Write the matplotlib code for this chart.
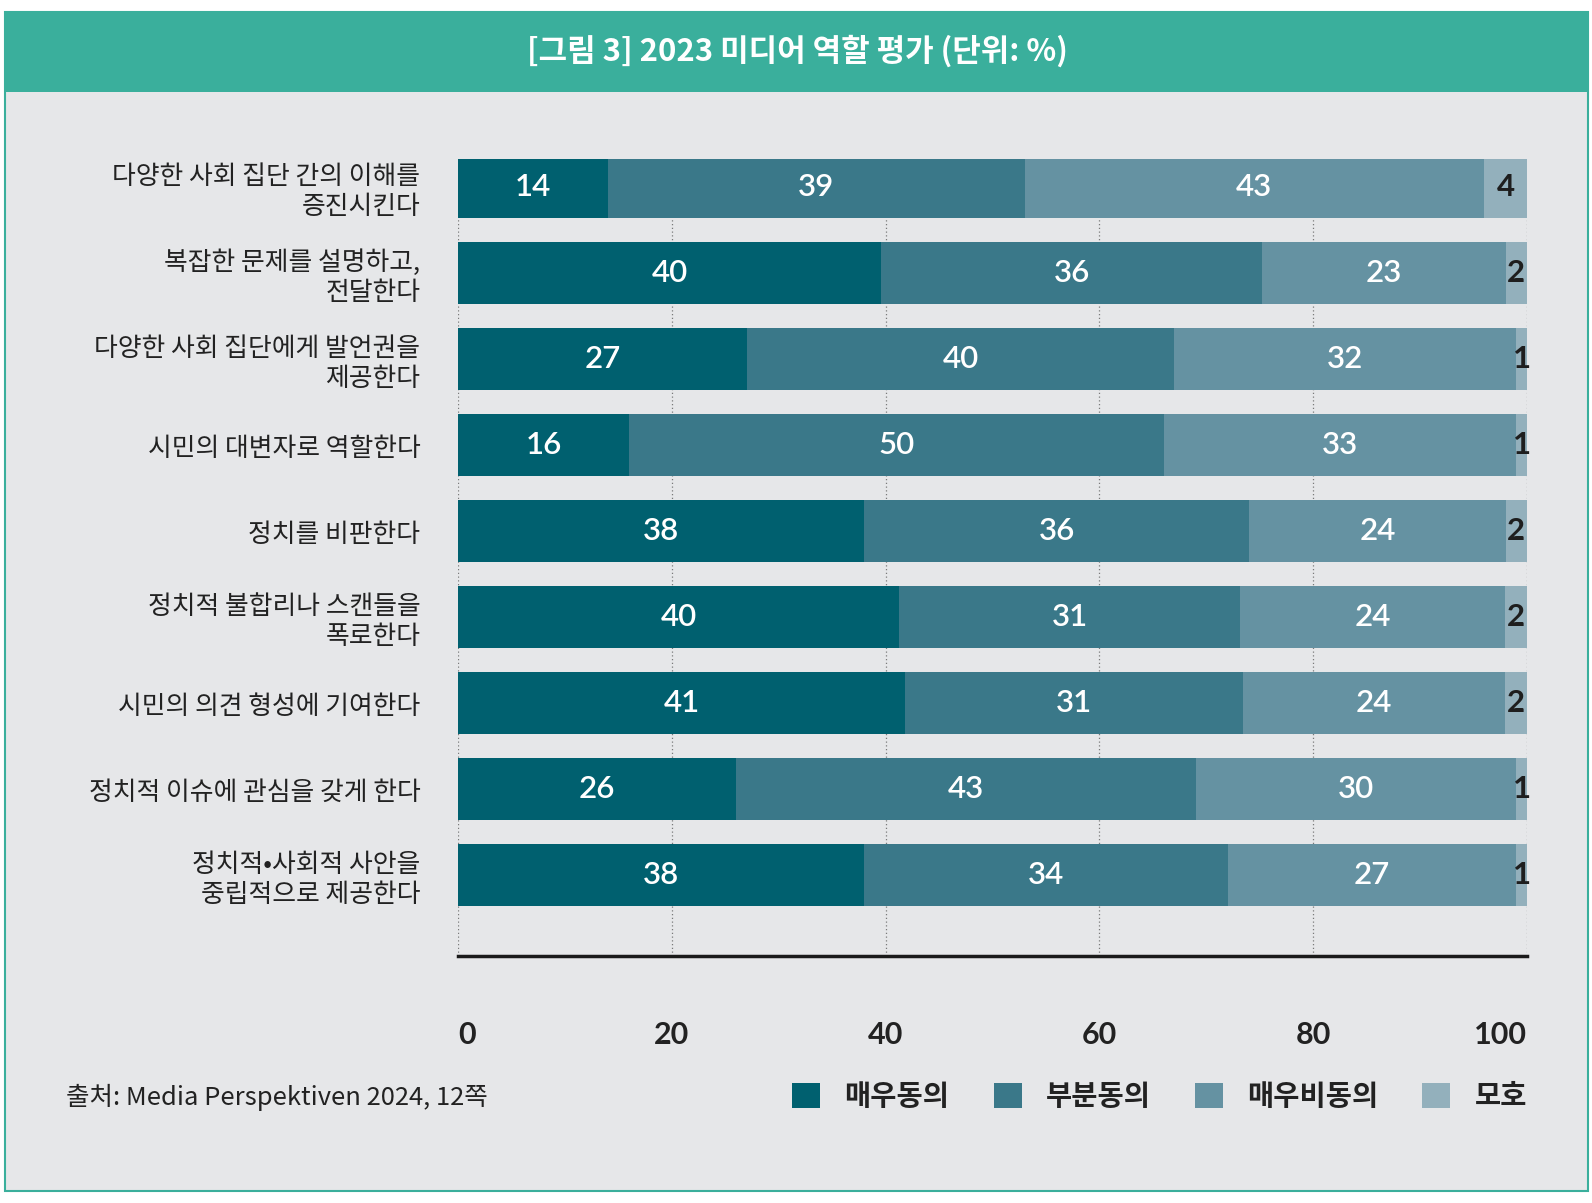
import matplotlib
matplotlib.use("Agg")
import matplotlib.pyplot as plt
from matplotlib.patches import Rectangle, Patch
import numpy as np

plt.rcParams['font.family'] = ['Noto Sans CJK KR', 'DejaVu Sans']

categories = [
    "다양한 사회 집단 간의 이해를\n증진시킨다",
    "복잡한 문제를 설명하고,\n전달한다",
    "다양한 사회 집단에게 발언권을\n제공한다",
    "시민의 대변자로 역할한다",
    "정치를 비판한다",
    "정치적 불합리나 스캔들을\n폭로한다",
    "시민의 의견 형성에 기여한다",
    "정치적 이슈에 관심을 갖게 한다",
    "정치적•사회적 사안을\n중립적으로 제공한다",
]
series_names = ["매우동의", "부분동의", "매우비동의", "모호"]
strongly_agree = [14, 40, 27, 16, 38, 40, 41, 26, 38]
partly_agree = [39, 36, 40, 50, 36, 31, 31, 43, 34]
strongly_disagree = [43, 23, 32, 33, 24, 24, 24, 30, 27]
ambiguous = [4, 2, 1, 1, 2, 2, 2, 1, 1]
x_ticks = [0, 20, 40, 60, 80, 100]
x_tick_labels = ["0", "20", "40", "60", "80", "100"]

title = "[그림 3] 2023 미디어 역할 평가 (단위: %)"
source = "출처: Media Perspektiven 2024, 12쪽"

colors = ["#00606f", "#3a7889", "#6592a2", "#93b0bc"]
label_colors = ["white", "white", "white", "#1e1e1e"]
num_family = ['Lato', 'Noto Sans', 'DejaVu Sans']

W, H = 1592, 1203
fig = plt.figure(figsize=(W / 100, H / 100), dpi=100)
fig.patch.set_facecolor("white")

def fx(px):
    return px / W

def fy(py):
    return 1 - py / H

# panel background and header
fig.add_artist(Rectangle((fx(5), fy(1191)), fx(1588) - fx(5), fy(12) - fy(1191),
                         transform=fig.transFigure, facecolor="#e6e7e9",
                         edgecolor="#3aaf9c", lw=1.5, zorder=0))
fig.add_artist(Rectangle((fx(5), fy(92)), fx(1588) - fx(5), fy(12) - fy(92),
                         transform=fig.transFigure, facecolor="#3aaf9c",
                         edgecolor="none", zorder=1))
fig.text(fx(797), fy(51), title, color="white", fontsize=22.3, fontweight="bold",
         ha="center", va="center", zorder=2)

ax = fig.add_axes([fx(458), fy(956), fx(1527) - fx(458), fy(159) - fy(956)])
ax.set_facecolor("none")

data = np.array([strongly_agree, partly_agree, strongly_disagree, ambiguous], dtype=float)
totals = data.sum(axis=0)
norm = data / totals * 100

y = np.arange(len(categories))
left = np.zeros(len(categories))
for k in range(4):
    ax.barh(y, norm[k], left=left, height=0.72, color=colors[k], zorder=3,
            label=series_names[k])
    for i in range(len(categories)):
        ax.text(left[i] + norm[k][i] / 2, y[i], str(int(data[k][i])),
                ha="center", va="center", color=label_colors[k],
                fontsize=22.5, fontweight="semibold" if k < 3 else "bold",
                family=num_family, zorder=4)
    left = left + norm[k]

ax.set_xlim(0, 100)
ax.set_ylim(8.94, -0.33)
ax.set_yticks(y)
ax.set_yticklabels(categories, fontsize=18.6, color="#222222", linespacing=1.12)
ax.tick_params(axis="y", length=0, pad=27)
ax.set_xticks(x_ticks)
ax.set_xticklabels(x_tick_labels, fontsize=22, fontweight="bold",
                   color="#222222", family=num_family)
ax.tick_params(axis="x", length=0, pad=47)
xl = ax.get_xticklabels()
xl[0].set_ha("left")
xl[-1].set_ha("right")

ax.grid(axis="x", linestyle=(0, (1, 2)), color="#7a7a7a", lw=0.9, zorder=1)
for s in ["top", "right", "left"]:
    ax.spines[s].set_visible(False)
ax.spines["bottom"].set_color("#1a1a1a")
ax.spines["bottom"].set_linewidth(2.5)

fig.text(fx(66), fy(1097), source, fontsize=18.4, color="#222222", ha="left", va="center")

handles = [Patch(facecolor=c, edgecolor="none") for c in colors]
fig.legend(handles, series_names, loc="center right",
           bbox_to_anchor=(fx(1527), fy(1097)), ncol=4, frameon=False,
           prop={"size": 20.5, "weight": "bold"}, handlelength=0.98, handleheight=1.0,
           handletextpad=0.85, columnspacing=1.55, borderaxespad=0, borderpad=0,
           labelcolor="#222222")

fig.savefig("out.png", dpi=100, facecolor="white")
